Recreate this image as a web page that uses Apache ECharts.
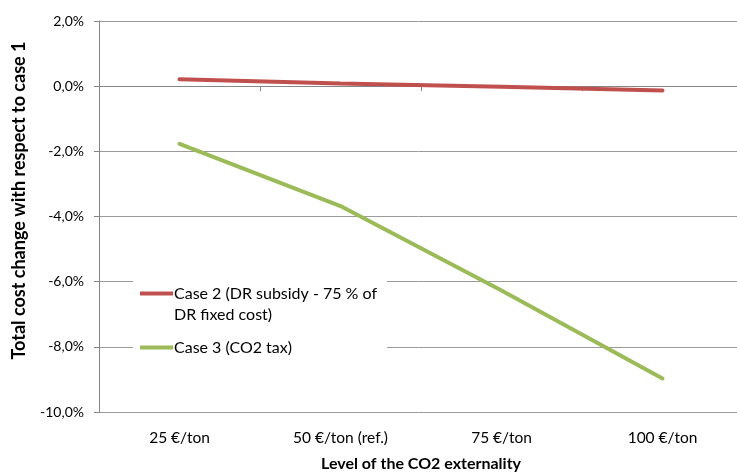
<!DOCTYPE html>
<html>
<head>
<meta charset="utf-8">
<title>CO2 externality</title>
<script src="https://cdn.jsdelivr.net/npm/echarts@6/dist/echarts.min.js"></script>
<style>
  html, body { margin: 0; padding: 0; background: #fff; }
  #main { width: 737px; height: 472px; }
</style>
</head>
<body>
<div id="main"></div>
<script>
// categories and values (in %)
var categories = ['25 €/ton', '50 €/ton (ref.)', '75 €/ton', '100 €/ton'];
var case2 = [0.21, 0.08, -0.02, -0.13];
var case3 = [-1.77, -3.68, -6.27, -8.97];
var seriesNames = ['Case 2 (DR subsidy - 75 % of\nDR fixed cost)', 'Case 3 (CO2 tax)'];

var font = 'Lato';
var chart = echarts.init(document.getElementById('main'));

// legend bar drawn at the top of a taller box so it lines up with the first text line
var iconTop = 'path://M0,0L33,0L33,4L0,4Z M0,25L0,25Z';
var iconMid = 'path://M0,0L0,0Z M0,10.5L33,10.5L33,14.5L0,14.5Z M0,25L0,25Z';

var option = {
  animation: false,
  textStyle: { fontFamily: font },
  grid: { left: 99, top: 21, right: -6, bottom: 60, outerBoundsMode: 'none' },
  legend: {
    orient: 'vertical',
    left: 133,
    top: 277,
    backgroundColor: '#fff',
    padding: [6, 10, 8, 7],
    itemWidth: 33,
    itemHeight: 25,
    itemGap: 10,
    textStyle: { fontFamily: font, fontSize: 16, color: '#000', lineHeight: 21, padding: [0, 0, 0, -4] },
    data: [
      { name: seriesNames[0], icon: iconTop },
      { name: seriesNames[1], icon: iconMid }
    ]
  },
  xAxis: [{
    type: 'category',
    data: categories,
    position: 'bottom',
    axisLine: { show: false, onZero: false },
    axisTick: { show: false },
    axisLabel: { fontFamily: font, fontSize: 15.5, color: '#000', margin: 18 },
    name: 'Level of the CO2 externality',
    nameLocation: 'middle',
    nameGap: 44,
    nameTextStyle: { fontFamily: font, fontSize: 16, fontWeight: 'bold', color: '#000' }
  }, {
    type: 'category',
    data: categories,
    position: 'bottom',
    axisLine: { onZero: true, lineStyle: { color: '#868686', width: 1 } },
    axisTick: { show: true, length: 5, lineStyle: { color: '#868686' } },
    axisLabel: { show: false }
  }],
  yAxis: {
    type: 'value',
    min: -10,
    max: 2,
    interval: 2,
    axisLine: { show: true, lineStyle: { color: '#868686' } },
    axisTick: { show: true, length: 5, lineStyle: { color: '#868686' } },
    splitLine: { lineStyle: { color: '#9a9a9a' } },
    axisLabel: {
      fontFamily: font, fontSize: 14, color: '#000', margin: 15,
      formatter: function (v) { return v.toFixed(1).replace('.', ',') + '%'; }
    },
    name: 'Total cost change with respect to case 1',
    nameLocation: 'middle',
    nameGap: 71,
    nameTextStyle: { fontFamily: font, fontSize: 18, fontWeight: 'bold', color: '#000', padding: [0, 0, 0, 32] }
  },
  series: [{
    name: seriesNames[0],
    type: 'line',
    data: case2,
    symbol: 'none',
    itemStyle: { color: '#C0504D' },
    lineStyle: { color: '#C0504D', width: 4, cap: 'round' }
  }, {
    name: seriesNames[1],
    type: 'line',
    data: case3,
    symbol: 'none',
    itemStyle: { color: '#9BBB59' },
    lineStyle: { color: '#9BBB59', width: 4, cap: 'round' }
  }]
};

chart.setOption(option);
</script>
</body>
</html>
